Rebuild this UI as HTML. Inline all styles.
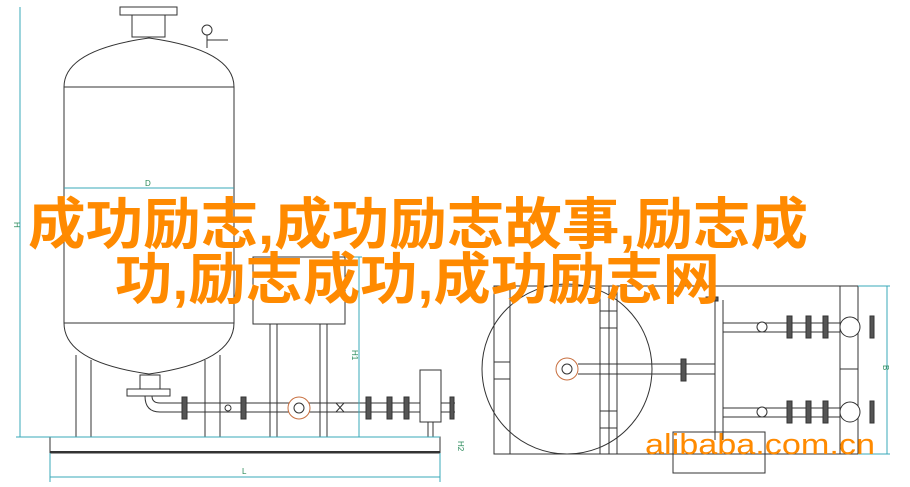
<!DOCTYPE html>
<html><head><meta charset="utf-8"><style>
html,body{margin:0;padding:0;background:#fff;width:910px;height:487px;overflow:hidden}
svg{display:block}
</style></head><body>
<svg width="910" height="487" viewBox="0 0 910 487" xmlns="http://www.w3.org/2000/svg">
<g fill="none" stroke="#333" stroke-width="1">
<!-- left tank -->
<path d="M64 87 Q64 50 149 38 Q234 50 234 87 L234 323 Q234 362 149 374 Q64 362 64 323 Z" fill="#fff"/>
<line x1="64" y1="87" x2="234" y2="87"/>
<line x1="64" y1="323" x2="234" y2="323"/>
<rect x="132" y="14" width="33" height="23"/>
<rect x="120" y="7" width="57" height="8" fill="#fff"/>
<circle cx="207" cy="30" r="5"/><line x1="207" y1="35" x2="207" y2="48"/><line x1="207" y1="40" x2="228" y2="40"/>
<line x1="76" y1="355" x2="76" y2="437"/><line x1="91" y1="360" x2="91" y2="437"/>
<line x1="205" y1="360" x2="205" y2="437"/><line x1="220" y1="355" x2="220" y2="437"/>
<rect x="140" y="375" width="20" height="14"/>
<rect x="127" y="389" width="43" height="7"/>
<path d="M145 396 Q145 412 160 412 L455 412 M152 396 Q152 403 160 403 L455 403"/>
<!-- small tank -->
<rect x="253" y="257" width="92" height="67"/>
<line x1="270" y1="324" x2="270" y2="437"/><line x1="277" y1="324" x2="277" y2="437"/>
<line x1="320" y1="324" x2="320" y2="437"/><line x1="327" y1="324" x2="327" y2="437"/>
<rect x="420" y="370" width="21" height="52" fill="#fff"/>
<line x1="428" y1="422" x2="428" y2="437"/><line x1="433" y1="422" x2="433" y2="437"/>
<circle cx="299" cy="408" r="11" fill="#fff" stroke="#c87040"/><circle cx="299" cy="408" r="5"/>
<circle cx="228" cy="408" r="3"/>
<path d="M336 403 L344 412 M336 412 L344 403"/>
<!-- base -->
<rect x="50" y="437" width="390" height="16"/>
<line x1="50" y1="452" x2="440" y2="452" stroke-width="2"/>
<!-- right drawing -->
<rect x="494" y="286" width="364" height="168"/>
<line x1="510" y1="286" x2="510" y2="454"/>
<line x1="600" y1="286" x2="600" y2="454"/><line x1="609" y1="286" x2="609" y2="454"/><line x1="617" y1="286" x2="617" y2="454"/>
<line x1="600" y1="311" x2="617" y2="311"/><line x1="600" y1="328" x2="617" y2="328"/><line x1="600" y1="411" x2="617" y2="411"/><line x1="600" y1="428" x2="617" y2="428"/>
<rect x="494" y="362" width="16" height="17"/>
<circle cx="567" cy="369" r="85"/>
<circle cx="567" cy="369" r="11" stroke="#c87040"/><circle cx="567" cy="369" r="5"/>
<line x1="578" y1="364" x2="715" y2="364"/><line x1="578" y1="374" x2="715" y2="374"/>
<line x1="715" y1="300" x2="715" y2="440"/><line x1="723" y1="300" x2="723" y2="440"/>
<line x1="723" y1="323" x2="840" y2="323"/><line x1="723" y1="332" x2="840" y2="332"/>
<line x1="723" y1="408" x2="840" y2="408"/><line x1="723" y1="417" x2="840" y2="417"/>
<line x1="840" y1="286" x2="840" y2="454"/><line x1="858" y1="286" x2="858" y2="454"/>
<line x1="840" y1="369" x2="858" y2="369"/>
<circle cx="850" cy="327" r="10" fill="#fff"/><circle cx="850" cy="412" r="10" fill="#fff"/>
<circle cx="762" cy="327" r="5" fill="#fff"/><circle cx="762" cy="412" r="5" fill="#fff"/>
<rect x="673" y="432" width="92" height="41"/>
</g>
<!-- flanges -->
<g fill="#555" stroke="#333">
<rect x="182" y="397" width="5" height="22"/><rect x="241" y="397" width="5" height="22"/>
<rect x="366" y="397" width="5" height="22"/><rect x="387" y="397" width="5" height="22"/><rect x="404" y="397" width="5" height="22"/><rect x="450" y="397" width="4" height="22"/>
<rect x="787" y="316" width="5" height="22"/><rect x="806" y="316" width="5" height="22"/><rect x="823" y="316" width="5" height="22"/><rect x="870" y="316" width="4" height="22"/>
<rect x="787" y="401" width="5" height="22"/><rect x="806" y="401" width="5" height="22"/><rect x="823" y="401" width="5" height="22"/><rect x="870" y="401" width="4" height="22"/>
<rect x="681" y="359" width="5" height="22"/><rect x="706" y="297" width="12" height="4"/>
</g>
<!-- dimension lines -->
<g stroke="#3aa8b8" stroke-width="1" fill="none">
<line x1="20" y1="7" x2="20" y2="437"/><line x1="16" y1="437" x2="440" y2="437"/>
<line x1="64" y1="188" x2="234" y2="188"/>
<line x1="359" y1="257" x2="359" y2="437"/><line x1="345" y1="257" x2="362" y2="257"/>
<line x1="50" y1="477" x2="440" y2="477"/><line x1="50" y1="453" x2="50" y2="482"/><line x1="440" y1="453" x2="440" y2="482"/>
<line x1="887" y1="286" x2="887" y2="454"/><line x1="858" y1="286" x2="890" y2="286"/><line x1="858" y1="454" x2="890" y2="454"/>
</g>
<g fill="#2a8a5a" font-family="Liberation Sans, sans-serif" font-size="8">
<text x="145" y="186">D</text><text x="17" y="225" transform="rotate(90 17 222)">H</text>
<text x="352" y="350" transform="rotate(90 352 350)">H1</text>
<text x="242" y="474">L</text><text x="451" y="442" transform="rotate(90 455 445)">H2</text>
<text x="880" y="368" transform="rotate(90 883 368)">B</text>
</g>
<g fill="#ff8a00" font-family="Liberation Sans, 'Noto Sans CJK SC', sans-serif" font-weight="bold" font-size="56">
<text x="28" y="244" textLength="780" lengthAdjust="spacingAndGlyphs">成功励志,成功励志故事,励志成</text>
<text x="115" y="299" textLength="605" lengthAdjust="spacingAndGlyphs">功,励志成功,成功励志网</text>
</g>
<text x="645" y="454" fill="#ff8a00" font-family="Liberation Sans, sans-serif" font-size="29" textLength="230" lengthAdjust="spacingAndGlyphs">alibaba.com.cn</text>
</svg>
</body></html>
